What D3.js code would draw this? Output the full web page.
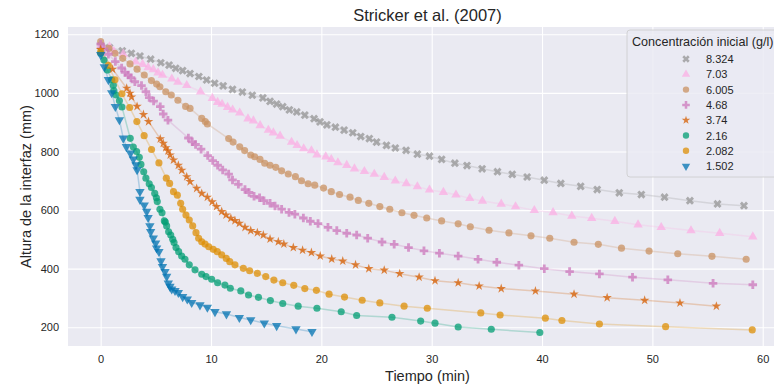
<!DOCTYPE html>
<html>
<head>
<meta charset="utf-8">
<script src="https://cdn.jsdelivr.net/npm/d3@7"></script>
<style>
  body { margin: 0; background: #fff; overflow: hidden; }
  text { font-family: "Liberation Sans", Arial, sans-serif; fill: #262626; }
</style>
</head>
<body>
<div id="chart"></div>
<script>
// series values: [tiempo (min), altura (mm)]
const s8324 = [[0,1160],[0.8,1155],[1.96,1144],[2.78,1135],[3.56,1126],[4.53,1115],[5.45,1103],[6.2,1095],[6.8,1084],[7.43,1076],[8.1,1066],[8.9,1056],[9.6,1044],[10.33,1033],[11.1,1024],[11.95,1012],[12.84,1003],[13.74,992],[14.7,983],[15.35,971],[15.95,962],[16.5,953],[17.1,942],[17.77,935],[18.5,924],[19.34,912],[19.88,901],[20.5,891],[21.27,883],[22.06,873],[22.85,864],[23.57,851],[24.35,844],[25.0,832],[25.9,821],[26.7,812],[27.68,804],[28.7,791],[29.8,784],[30.9,773],[32.1,760],[33.2,752],[34.57,741],[35.96,731],[37.3,722],[38.65,713],[40.2,702],[41.7,691],[43.5,681],[45.0,670],[47.0,659],[49.0,653],[51.1,644],[53.4,632],[55.9,621],[58.3,615]];
const s703 = [[0,1163],[0.8,1158],[1.2,1142],[2.05,1133],[3.17,1106],[3.8,1098],[4.3,1087],[4.77,1080],[5.2,1069],[5.6,1061],[6.45,1048],[7.0,1037],[7.8,1026],[9.05,1004],[10.12,982],[10.6,968],[11.0,962],[11.5,951],[11.96,942],[12.6,932],[13.35,912],[13.84,905],[14.45,889],[15.2,873],[15.65,864],[16.26,853],[17.3,832],[17.8,821],[18.4,810],[19.1,803],[19.6,789],[20.4,782],[20.9,773],[21.5,762],[22.3,753],[23.0,741],[23.9,732],[24.8,723],[25.7,712],[26.7,700],[27.7,691],[28.7,680],[29.8,669],[31.06,661],[32.2,652],[33.45,640],[34.6,631],[36.3,621],[37.6,612],[39.3,599],[41.0,592],[42.7,580],[44.5,572],[46.6,562],[48.7,550],[50.8,541],[53.5,530],[56.1,521],[59.1,509]];
const s6005 = [[0,1175],[0.75,1152],[1.3,1135],[2.0,1118],[2.66,1099],[3.3,1081],[3.95,1061],[4.6,1042],[5.07,1030],[5.37,1021],[5.9,1004],[6.4,993],[7.0,975],[7.7,954],[8.1,947],[9.16,913],[9.48,902],[9.67,894],[11.6,844],[12.0,832],[12.6,816],[13.05,803],[13.6,788],[13.96,782],[14.44,773],[14.87,760],[15.35,753],[15.87,746],[16.4,734],[17.0,723],[17.65,714],[18.2,700],[18.8,690],[19.4,685],[20.2,675],[20.9,663],[21.65,653],[22.6,644],[23.35,633],[24.3,623],[25.3,612],[26.2,603],[27.3,591],[28.4,582],[29.55,573],[30.9,563],[32.4,553],[33.5,543],[35.2,531],[37.0,522],[39.0,512],[40.7,504],[42.9,490],[45.1,483],[47.2,470],[49.7,460],[52.3,451],[55.4,442],[58.5,432]];
const s468 = [[0,1167],[0.3,1150],[0.7,1132],[1.33,1107],[1.9,1085],[2.2,1070],[2.5,1061],[2.75,1052],[3.1,1038],[3.7,1025],[4.1,1004],[4.4,984],[4.8,972],[5.4,953],[5.67,928],[6.1,907],[7.95,846],[8.3,833],[8.6,824],[9.1,808],[9.7,786],[10.15,769],[10.6,753],[11.06,737],[11.6,723],[11.95,703],[12.48,688],[13.08,670],[13.45,660],[13.9,647],[14.4,642],[14.8,632],[15.35,623],[15.8,614],[16.4,603],[17.07,592],[17.6,586],[18.37,573],[19.0,562],[19.7,554],[20.6,541],[21.4,530],[22.3,521],[23.2,515],[24.2,504],[25.5,491],[26.6,483],[27.9,472],[29.3,461],[30.7,453],[32.4,443],[34.2,432],[35.9,422],[37.9,412],[40.2,400],[42.5,390],[45.2,382],[48.2,371],[51.4,362],[55.5,350],[59.1,345]];
const s374 = [[0,1148],[1.08,1081],[2.36,1016],[2.66,999],[2.8,986],[3.3,954],[3.88,926],[4.34,902],[5.4,843],[5.67,828],[5.9,813],[6.1,802],[6.3,788],[6.6,771],[7.04,753],[7.35,736],[7.8,714],[8.1,697],[8.7,674],[9.16,657],[9.67,644],[10.1,628],[10.5,612],[10.97,595],[11.36,583],[11.8,572],[12.17,564],[12.57,555],[13.08,541],[13.6,530],[14.2,523],[14.74,515],[15.35,501],[16.1,492],[16.6,484],[17.46,472],[18.3,463],[19.1,455],[19.9,443],[20.94,433],[21.94,426],[23.1,413],[24.3,400],[25.7,395],[27.1,383],[28.86,371],[30.3,359],[32.4,352],[34.3,341],[36.3,332],[39.4,324],[42.9,313],[45.9,301],[49.3,292],[52.5,283],[55.8,272]];
const s216 = [[0,1135],[0.3,1112],[0.6,1078],[1.0,1045],[1.15,1026],[1.2,1007],[1.4,993],[1.7,973],[1.93,952],[2.68,845],[2.96,815],[3.26,800],[3.5,780],[3.65,756],[3.9,731],[4.1,709],[4.4,690],[4.6,677],[4.9,657],[5.05,642],[5.13,629],[5.37,603],[5.56,591],[5.77,563],[5.86,559],[5.98,546],[6.16,526],[6.35,515],[6.53,500],[6.65,489],[6.83,472],[7.07,458],[7.34,443],[7.64,432],[8.03,413],[8.55,396],[9.16,381],[9.55,373],[10.06,364],[10.6,352],[11.26,344],[11.75,333],[12.7,324],[13.4,310],[14.3,302],[15.38,291],[16.5,281],[17.9,272],[19.6,265],[21.8,253],[23.2,240],[26.4,234],[29.0,221],[30.3,214],[32.4,201],[35.4,193],[39.8,182]];
const s2082 = [[0,1140],[0.7,1094],[1.3,1045],[1.93,997],[2.63,950],[3.28,902],[3.94,854],[4.61,807],[5.28,761],[5.95,709],[6.25,691],[6.6,663],[6.95,651],[7.25,623],[7.43,603],[7.73,583],[8.03,566],[8.34,546],[8.64,523],[8.88,504],[9.16,492],[9.46,484],[9.8,475],[10.2,466],[10.57,458],[10.97,447],[11.38,435],[11.7,424],[12.17,413],[12.93,401],[13.5,393],[14.2,384],[14.96,373],[15.7,361],[16.5,352],[17.5,343],[18.5,332],[19.55,326],[20.7,313],[22.1,303],[23.7,292],[25.3,283],[27.5,272],[29.6,265],[34.45,249],[36.2,242],[40.3,231],[41.8,223],[45.2,211],[51.2,202],[59.05,191]];
const s1502 = [[0,1130],[0.33,1089],[0.7,1045],[1.0,1000],[1.33,953],[1.7,908],[2.05,845],[2.33,816],[2.7,794],[2.96,774],[3.2,754],[3.3,737],[3.56,663],[3.56,636],[3.95,617],[4.17,595],[4.3,574],[4.46,546],[4.53,526],[4.77,504],[4.98,487],[5.07,470],[5.28,458],[5.47,426],[5.6,407],[5.83,390],[5.98,373],[6.13,350],[6.28,339],[6.44,330],[6.74,325],[7.04,318],[7.43,304],[7.85,296],[8.25,284],[9.0,276],[9.67,268],[10.36,253],[11.4,245],[12.57,233],[13.6,225],[14.83,214],[15.95,205],[17.7,194],[19.15,185]];

const labels = ['8.324', '7.03', '6.005', '4.68', '3.74', '2.16', '2.082', '1.502'];
const values = [s8324, s703, s6005, s468, s374, s216, s2082, s1502];
const colors = ['#949494', '#fbafe4', '#ca9161', '#cc78bc', '#d55e00', '#029e73', '#de8f05', '#0173b2'];
const xTicks = [0, 10, 20, 30, 40, 50, 60];
const yTicks = [200, 400, 600, 800, 1000, 1200];

const W = 800, H = 387;
const plot = { left: 68, right: 787, top: 27, bottom: 346 };

const svg = d3.select('#chart').append('svg')
    .attr('width', W)
    .attr('height', H);

const x = d3.scaleLinear().domain([-2.96, 62.2]).range([plot.left, plot.right]);
const y = d3.scaleLinear().domain([136, 1225]).range([plot.bottom, plot.top]);

svg.append('rect')
    .attr('x', plot.left).attr('y', plot.top)
    .attr('width', plot.right - plot.left).attr('height', plot.bottom - plot.top)
    .attr('fill', '#eaeaf2');

// grid
const xAxis = svg.append('g')
    .attr('transform', `translate(0,${plot.bottom})`)
    .call(d3.axisBottom(x).tickValues(xTicks).tickFormat(d3.format('d'))
        .tickSize(-(plot.bottom - plot.top)).tickPadding(9));
const yAxis = svg.append('g')
    .attr('transform', `translate(${plot.left},0)`)
    .call(d3.axisLeft(y).tickValues(yTicks).tickFormat(d3.format('d'))
        .tickSize(-(plot.right - plot.left)).tickPadding(9));

[xAxis, yAxis].forEach(a => {
    a.select('.domain').remove();
    a.selectAll('line').attr('stroke', '#fff').attr('stroke-width', 1.1);
    a.selectAll('text').attr('font-size', 11).style('fill', '#262626');
});

// marker shapes, matching seaborn's filled markers
const shapes = [
    { type: d3.symbolCross, rot: 45, size: 42 },
    { type: d3.symbolTriangle, rot: 0, size: 38 },
    { type: d3.symbolCircle, rot: 0, size: 40 },
    { type: d3.symbolCross, rot: 0, size: 40 },
    { type: d3.symbolStar, rot: 0, size: 28 },
    { type: d3.symbolCircle, rot: 0, size: 40 },
    { type: d3.symbolCircle, rot: 0, size: 40 },
    { type: d3.symbolTriangle, rot: 180, size: 38 }
];

const line = d3.line().x(d => x(d[0])).y(d => y(d[1]));

const layer = svg.append('g');
values.forEach((s, i) => {
    layer.append('path')
        .datum(s)
        .attr('d', line)
        .attr('fill', 'none')
        .attr('stroke', colors[i])
        .attr('stroke-width', 1.5)
        .attr('opacity', 0.25);
});
values.forEach((s, i) => {
    const sym = d3.symbol().type(shapes[i].type).size(shapes[i].size);
    layer.append('g').selectAll('path')
        .data(s)
        .enter().append('path')
        .attr('d', sym)
        .attr('transform', d => `translate(${x(d[0])},${y(d[1])}) rotate(${shapes[i].rot})`)
        .attr('fill', colors[i])
        .attr('opacity', 0.75);
});

// title and axis labels
svg.append('text')
    .attr('x', (plot.left + plot.right) / 2).attr('y', 21)
    .attr('text-anchor', 'middle')
    .attr('font-size', 16.5)
    .text('Stricker et al. (2007)');

svg.append('text')
    .attr('x', (plot.left + plot.right) / 2).attr('y', 381)
    .attr('text-anchor', 'middle')
    .attr('font-size', 14.5)
    .text('Tiempo (min)');

svg.append('text')
    .attr('transform', `translate(31,${(plot.top + plot.bottom) / 2}) rotate(-90)`)
    .attr('text-anchor', 'middle')
    .attr('font-size', 14.5)
    .text('Altura de la interfaz (mm)');

// legend (its right side runs past the window edge, as in the original)
const lg = svg.append('g').attr('transform', 'translate(627,30)');
lg.append('rect')
    .attr('width', 170).attr('height', 147)
    .attr('rx', 3)
    .attr('fill', '#eaeaf2')
    .attr('fill-opacity', 0.8)
    .attr('stroke', '#cccccc')
    .attr('stroke-width', 0.8);
lg.append('text')
    .attr('x', 5).attr('y', 16)
    .attr('font-size', 12.6)
    .text('Concentración inicial (g/l)');

labels.forEach((l, i) => {
    const row = lg.append('g').attr('transform', `translate(0,${29 + i * 15.3})`);
    row.append('path')
        .attr('d', d3.symbol().type(shapes[i].type).size(shapes[i].size * 0.8))
        .attr('transform', `translate(59,0) rotate(${shapes[i].rot})`)
        .attr('fill', colors[i])
        .attr('opacity', 0.75);
    row.append('text')
        .attr('x', 79).attr('y', 4)
        .attr('font-size', 11)
        .text(l);
});
</script>
</body>
</html>
